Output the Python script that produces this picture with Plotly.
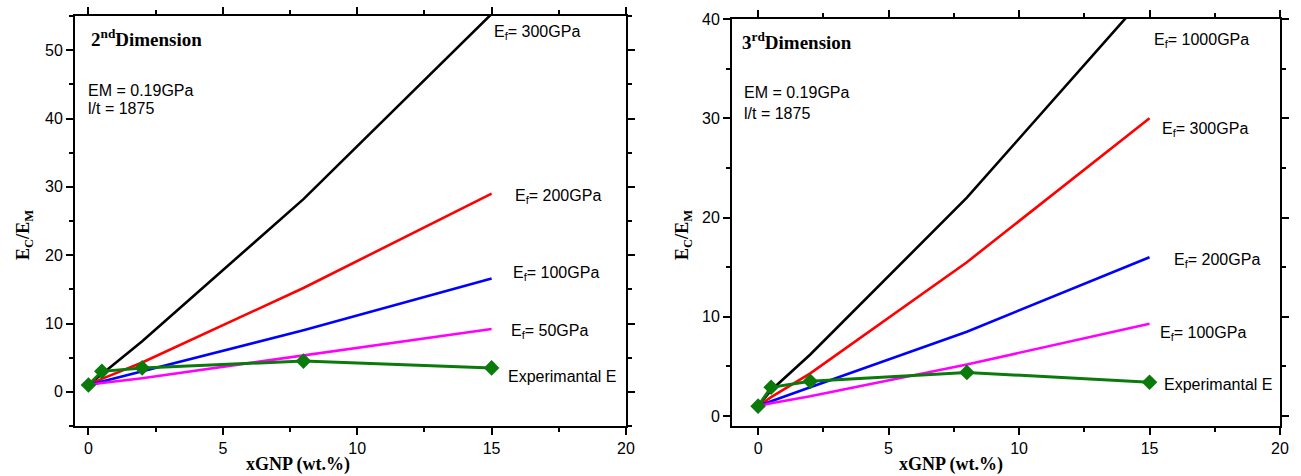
import plotly.graph_objects as go

# GNP loading (wt.%)
x_model = [0, 0.5, 2, 8, 15]
x_exp = [0, 0.5, 2, 8, 15]

# 2nd dimension: normalised composite modulus Ec/Em
d2_ef300 = [1.0, 2.6, 7.4, 28.2, 55.3]
d2_ef200 = [1.0, 1.9, 4.3, 15.2, 29.0]
d2_ef100 = [1.0, 1.5, 3.0, 9.0, 16.6]
d2_ef50 = [1.0, 1.3, 2.0, 5.3, 9.2]
d2_exp = [1.0, 3.0, 3.5, 4.5, 3.5]

# 3rd dimension
d3_ef1000 = [1.0, 2.6, 6.2, 22.0, 42.8]
d3_ef300 = [1.0, 1.9, 4.3, 15.5, 30.0]
d3_ef200 = [1.0, 1.5, 2.9, 8.5, 16.0]
d3_ef100 = [1.0, 1.3, 2.0, 5.2, 9.3]
d3_exp = [1.0, 2.9, 3.5, 4.4, 3.4]

x_ticks = [0, 5, 10, 15, 20]

W, H = 1301, 476
BLACK, RED, BLUE, MAG, GREEN = "#000000", "#ff0000", "#0000ff", "#ff00ff", "#0a7a0a"

fig = go.Figure()


def add_lines(series, xa, ya):
    for y, c in series:
        fig.add_trace(go.Scatter(x=x_model, y=y, mode="lines", line=dict(color=c, width=2.6),
                                 xaxis=xa, yaxis=ya, showlegend=False, cliponaxis=True))


add_lines([(d2_ef300, BLACK), (d2_ef200, RED), (d2_ef100, BLUE), (d2_ef50, MAG)], "x", "y")
fig.add_trace(go.Scatter(x=x_exp, y=d2_exp, mode="lines+markers",
                         line=dict(color=GREEN, width=3),
                         marker=dict(symbol="diamond", size=12, color=GREEN),
                         xaxis="x", yaxis="y", showlegend=False))
add_lines([(d3_ef1000, BLACK), (d3_ef300, RED), (d3_ef200, BLUE), (d3_ef100, MAG)], "x2", "y2")
fig.add_trace(go.Scatter(x=x_exp, y=d3_exp, mode="lines+markers",
                         line=dict(color=GREEN, width=3),
                         marker=dict(symbol="diamond", size=12, color=GREEN),
                         xaxis="x2", yaxis="y2", showlegend=False))

tick_font = dict(family="Liberation Sans, Arial", size=16, color="black")
title_font = dict(family="Liberation Serif, Times New Roman", size=18, color="black")

common_axis = dict(showline=True, linecolor="black", linewidth=2, mirror="allticks",
                   ticks="outside", ticklen=7, tickwidth=1.5, tickcolor="black",
                   showgrid=False, zeroline=False, tickfont=tick_font, automargin=False,
                   minor=dict(ticks="outside", ticklen=4, tickwidth=1.5, tickcolor="black"))

fig.update_layout(
    width=W, height=H,
    margin=dict(l=0, r=0, t=0, b=0),
    paper_bgcolor="white", plot_bgcolor="white",
    xaxis=dict(domain=[75 / W, 626 / W], range=[-0.5, 20], tickvals=x_ticks,
               minor_dtick=2.5, anchor="y", **common_axis),
    yaxis=dict(domain=[1 - 426 / H, 1 - 16 / H], range=[-5, 55], dtick=10,
               minor_dtick=5, anchor="x", **common_axis),
    xaxis2=dict(domain=[732 / W, 1280 / W], range=[-1, 20], tickvals=x_ticks,
                minor_dtick=2.5, anchor="y2", **common_axis),
    yaxis2=dict(domain=[1 - 426 / H, 1 - 19 / H], range=[-1, 40], dtick=10,
                minor_dtick=5, anchor="x2", **common_axis),
)

lab_font = dict(family="Liberation Sans, Arial", size=16, color="black")
head_font = dict(family="Liberation Serif, Times New Roman", size=19, color="black")


def note(xp, yp, text, font=lab_font, anchor="left", angle=0):
    fig.add_annotation(x=xp / W, y=1 - yp / H, xref="paper", yref="paper", text=text,
                       showarrow=False, xanchor=anchor, yanchor="middle", font=font,
                       textangle=angle)


# axis titles
note(298, 464, "<b>xGNP (wt.%)</b>", title_font, "center")
note(951, 464, "<b>xGNP (wt.%)</b>", title_font, "center")
note(24, 235, "<b>E<sub>C</sub>/E<sub>M</sub></b>", title_font, "center", -90)
note(683, 235, "<b>E<sub>C</sub>/E<sub>M</sub></b>", title_font, "center", -90)

# left panel notes
note(89, 38, "<b>2<sup>nd</sup>Dimension</b>", head_font)
note(86, 90, "EM = 0.19GPa")
note(86, 109, "l/t = 1875")
note(492, 33, "E<sub>f</sub>= 300GPa")
note(513, 196, "E<sub>f</sub>= 200GPa")
note(511, 273, "E<sub>f</sub>= 100GPa")
note(509, 331, "E<sub>f</sub>= 50GPa")
note(506, 376, "Experimantal E")

# right panel notes
note(740, 41, "<b>3<sup>rd</sup>Dimension</b>", head_font)
note(742, 93, "EM = 0.19GPa")
note(742, 113, "l/t = 1875")
note(1152, 40, "E<sub>f</sub>= 1000GPa")
note(1160, 130, "E<sub>f</sub>= 300GPa")
note(1172, 260, "E<sub>f</sub>= 200GPa")
note(1158, 333, "E<sub>f</sub>= 100GPa")
note(1162, 384, "Experimantal E")

fig.write_html("out.html")
